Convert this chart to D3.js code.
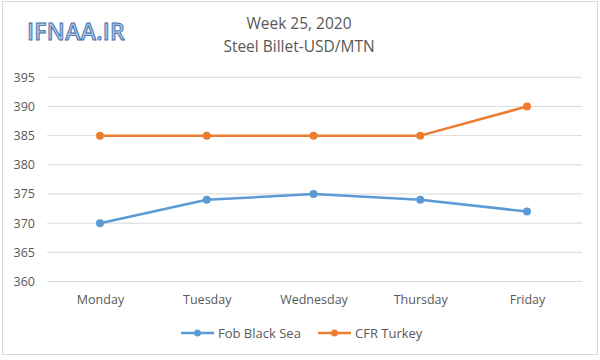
<!DOCTYPE html>
<html><head><meta charset="utf-8">
<script src="https://cdn.jsdelivr.net/npm/d3@7/dist/d3.min.js"></script>
<style>body{margin:0;background:#fff}svg{display:block}</style>
</head><body>
<script>
const days = ["Monday","Tuesday","Wednesday","Thursday","Friday"];
const fobBlackSea = [370, 374, 375, 374, 372];
const cfrTurkey = [385, 385, 385, 385, 390];
const yTicks = [360, 365, 370, 375, 380, 385, 390, 395];
const seriesNames = ["Fob Black Sea", "CFR Turkey"];
const colors = ["#5B9BD5", "#ED7D31"];

const W = 600, H = 360;
const svg = d3.select("body").append("svg").attr("width", W).attr("height", H);
const font = "'Open Sans', sans-serif";
const gray = "#595959";

svg.append("rect").attr("x", 2.5).attr("y", 1.5).attr("width", 595).attr("height", 353)
  .attr("fill", "#fff").attr("stroke", "#d9d9d9");

const x = d3.scalePoint().domain(days).range([100, 527]);
const y = d3.scaleLinear().domain([360, 395]).range([281.5, 77.3]);

// gridlines
svg.append("g").selectAll("line").data(yTicks).join("line")
  .attr("x1", 47).attr("x2", 582)
  .attr("y1", d => y(d)).attr("y2", d => y(d))
  .attr("stroke", "#d9d9d9").attr("stroke-width", 1);

// y axis labels
const yAxis = svg.append("g").attr("transform", "translate(40,0)")
  .call(d3.axisLeft(y).tickValues(yTicks).tickSize(0).tickPadding(5));
yAxis.select(".domain").remove();
yAxis.selectAll("text").attr("font-family", font).attr("font-size", 12.5).attr("fill", gray);

// x axis labels
const xAxis = svg.append("g").attr("transform", "translate(0,291)")
  .call(d3.axisBottom(x).tickSize(0).tickPadding(4));
xAxis.select(".domain").remove();
xAxis.selectAll("text").attr("font-family", font).attr("font-size", 12.5).attr("fill", gray);

const series = [fobBlackSea, cfrTurkey];
const line = d3.line().x((d, i) => x(days[i])).y(d => y(d));
series.forEach((s, k) => {
  svg.append("path").datum(s).attr("d", line).attr("fill", "none")
    .attr("stroke", colors[k]).attr("stroke-width", 2.5).attr("stroke-linejoin", "round");
  svg.append("g").selectAll("circle").data(s).join("circle")
    .attr("cx", (d, i) => x(days[i])).attr("cy", d => y(d)).attr("r", 4)
    .attr("fill", colors[k]);
});

// title
svg.append("text").attr("x", 299).attr("y", 29).attr("text-anchor", "middle")
  .attr("font-family", font).attr("font-size", 15.5).attr("fill", gray).text("Week 25, 2020");
svg.append("text").attr("x", 299).attr("y", 52).attr("text-anchor", "middle")
  .attr("font-family", font).attr("font-size", 15.5).attr("fill", gray).text("Steel Billet-USD/MTN");

// logo
svg.append("text").attr("x", 27).attr("y", 40)
  .attr("font-family", font).attr("font-size", 23).attr("font-weight", 600)
  .attr("fill", "#a9c6ec").attr("stroke", "#3f6ea8").attr("stroke-width", 0.9)
  .attr("letter-spacing", 0.3).text("IFNAA.IR");

// legend
const legendX = [181, 318];
seriesNames.forEach((n, k) => {
  const g = svg.append("g").attr("transform", `translate(${legendX[k]},333)`);
  g.append("line").attr("x1", 0).attr("x2", 33).attr("y1", 0).attr("y2", 0)
    .attr("stroke", colors[k]).attr("stroke-width", 2.5);
  g.append("circle").attr("cx", 16.5).attr("cy", 0).attr("r", 3.5).attr("fill", colors[k]);
  g.append("text").attr("x", 37).attr("y", 4.5).attr("font-family", font)
    .attr("font-size", 13).attr("fill", gray).text(n);
});
</script>
</body></html>
